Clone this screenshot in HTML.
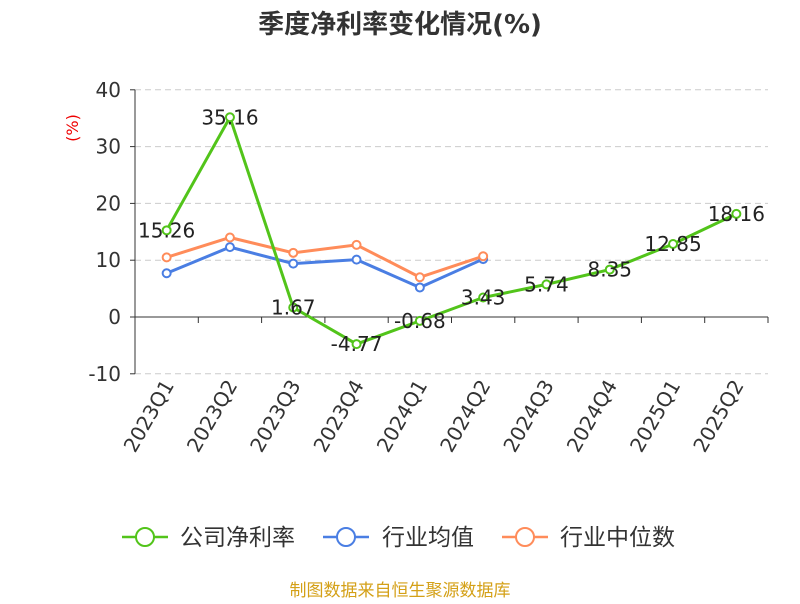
<!DOCTYPE html>
<html><head><meta charset="utf-8"><style>
body{margin:0;background:#fff;font-family:"DejaVu Sans","Noto Sans CJK SC",sans-serif;}
</style></head><body>
<svg width="800" height="600" xmlns="http://www.w3.org/2000/svg" style="font-family:'DejaVu Sans','Noto Sans CJK SC',sans-serif">
<text x="400" y="33" text-anchor="middle" font-size="26" font-weight="bold" fill="#333">季度净利率变化情况(%)</text>
<text x="78" y="128" font-size="16" fill="#e00" transform="rotate(-90 78 128)" text-anchor="middle">(%)</text>
<g id="grid"></g><g id="axes"></g><g id="series"></g>
<g font-size="23" fill="#333" font-family="Noto Sans CJK SC, sans-serif">
<g><line x1="122" y1="537" x2="168" y2="537" stroke="#52c41a" stroke-width="2.5"/><circle cx="145" cy="537" r="9" fill="#fff" stroke="#52c41a" stroke-width="2"/><text x="180" y="545">公司净利率</text></g>
<g><line x1="323" y1="537" x2="369" y2="537" stroke="#4a7ee3" stroke-width="2.5"/><circle cx="346" cy="537" r="9" fill="#fff" stroke="#4a7ee3" stroke-width="2"/><text x="382" y="545">行业均值</text></g>
<g><line x1="502" y1="537" x2="548" y2="537" stroke="#ff8c5a" stroke-width="2.5"/><circle cx="525" cy="537" r="9" fill="#fff" stroke="#ff8c5a" stroke-width="2"/><text x="560" y="545">行业中位数</text></g>
</g>
<text x="400" y="596" text-anchor="middle" font-size="17" fill="#d4a017" font-family="Noto Sans CJK SC, sans-serif">制图数据来自恒生聚源数据库</text>
</svg>
<script>
const categories=["2023Q1","2023Q2","2023Q3","2023Q4","2024Q1","2024Q2","2024Q3","2024Q4","2025Q1","2025Q2"];
const companyValues=[15.26,35.16,1.67,-4.77,-0.68,3.43,5.74,8.35,12.85,18.16];
const industryAvg=[7.7,12.3,9.4,10.1,5.2,10.2];
const industryMedian=[10.5,14.0,11.3,12.7,7.0,10.7];
const yTicks=[40,30,20,10,0,-10];
const NS="http://www.w3.org/2000/svg";
const x0=135,x1=768,band=(x1-x0)/categories.length;
const xs=i=>x0+band*(i+0.5);
const ys=v=>317-v*5.68;
function mk(t,a,p){const e=document.createElementNS(NS,t);for(const k in a)e.setAttribute(k,a[k]);p.appendChild(e);return e;}
const grid=document.getElementById('grid'),axes=document.getElementById('axes'),ser=document.getElementById('series');
yTicks.forEach(v=>{
 if(v!==0){const l=mk('line',{x1:x0,x2:x1,y1:ys(v),y2:ys(v),stroke:'#ccc','stroke-dasharray':'6,4'},grid);
 }
 const t=mk('text',{x:x0-14,y:ys(v)+7,'text-anchor':'end','font-size':20,fill:'#333'},axes);t.textContent=v;
 
 mk('line',{x1:x0-5,x2:x0,y1:ys(v),y2:ys(v),stroke:'#333'},axes);
});
const ya=mk('line',{x1:x0,x2:x0,y1:ys(40),y2:ys(-10),stroke:'#333'},axes);

const xa=mk('line',{x1:x0,x2:x1,y1:ys(0),y2:ys(0),stroke:'#333'},axes);

for(let i=0;i<=categories.length;i++)mk('line',{x1:x0+band*i,x2:x0+band*i,y1:ys(0),y2:ys(0)+6,stroke:'#333'},axes);
categories.forEach((c,i)=>{const x=xs(i)+8,y=385;
 const t=mk('text',{x:x,y:y,'text-anchor':'end','font-size':20,fill:'#333',transform:`rotate(-60 ${x} ${y})`},axes);t.textContent=c;
 });
function series(vals,color,name){
 const p=mk('polyline',{points:vals.map((v,i)=>xs(i)+','+ys(v)).join(' '),fill:'none',stroke:color,'stroke-width':3},ser);
 
 vals.forEach((v,i)=>{const c=mk('circle',{cx:xs(i),cy:ys(v),r:4,fill:'#fff',stroke:color,'stroke-width':2},ser);
 });
}
series(industryAvg,'#4a7ee3','industry-avg');
series(industryMedian,'#ff8c5a','industry-median');
series(companyValues,'#52c41a','company');
companyValues.forEach((v,i)=>{
 const t=mk('text',{x:xs(i),y:ys(v)+7,'text-anchor':'middle','font-size':20,fill:'#222'},ser);t.textContent=v.toFixed(2);
 });
</script>
</body></html>
